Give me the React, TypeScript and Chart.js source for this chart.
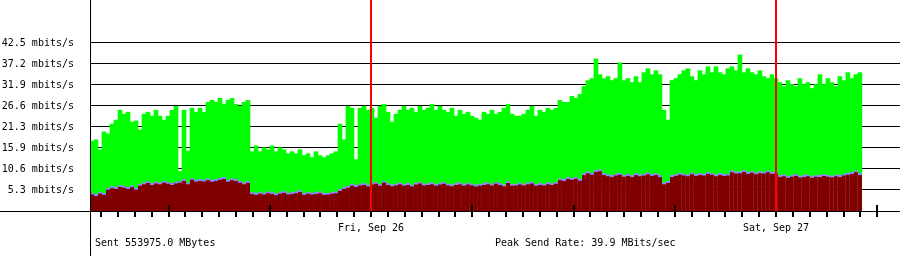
import React, { useEffect, useRef } from "react";
import { Chart, registerables } from "chart.js";

Chart.register(...registerables);

// Total send rate (top of green area), mbits/s, one sample every ~14 minutes
const TOTAL: number[] = [
  17.7, 18.0, 15.5, 20.0, 19.5, 22.0, 23.0, 25.5, 24.5, 25.0,
  22.5, 22.8, 20.5, 24.5, 25.0, 24.0, 25.5, 24.0, 23.0, 24.0,
  25.5, 26.5, 10.0, 25.5, 15.2, 26.0, 25.0, 26.0, 25.0, 27.5,
  28.0, 27.5, 28.5, 27.0, 28.0, 28.5, 27.0, 26.5, 27.5, 28.0,
  15.0, 16.5, 15.0, 16.0, 15.5, 16.5, 15.0, 16.0, 15.5, 14.5,
  15.0, 14.5, 15.5, 14.0, 14.5, 13.5, 15.0, 14.0, 13.5, 14.0,
  14.5, 15.0, 22.0, 18.0, 26.5, 26.0, 13.0, 26.0, 26.5, 25.5,
  26.0, 23.5, 26.5, 27.0, 25.0, 22.5, 24.5, 25.5, 26.5, 25.5,
  26.0, 25.0, 26.5, 25.5, 26.0, 27.0, 25.5, 26.5, 25.5, 25.0,
  26.0, 24.0, 25.5, 24.5, 25.0, 24.0, 23.5, 23.0, 25.0, 24.5,
  25.5, 24.5, 25.0, 26.0, 27.0, 24.5, 24.0, 24.0, 24.5, 25.5,
  26.5, 24.0, 25.5, 25.0, 26.0, 25.5, 26.0, 28.0, 27.5, 27.5,
  29.0, 28.5, 29.5, 31.5, 33.0, 33.5, 38.5, 34.5, 33.5, 34.0,
  33.0, 33.5, 37.5, 33.0, 33.5, 32.5, 34.0, 32.5, 35.0, 36.0,
  34.5, 35.5, 34.5, 25.5, 23.0, 33.0, 33.5, 34.5, 35.5, 36.0,
  34.0, 33.0, 35.5, 34.5, 36.5, 35.0, 36.5, 35.0, 34.5, 36.0,
  36.5, 35.5, 39.5, 35.0, 36.0, 35.0, 34.5, 35.5, 34.0, 33.5,
  34.5, 33.5, 32.5, 31.5, 33.0, 32.0, 31.5, 33.5, 32.0, 32.5,
  31.0, 32.0, 34.5, 32.0, 33.5, 32.5, 31.5, 34.0, 33.0, 35.0,
  33.5, 34.5, 35.0,
];

// Lower (dark red) series, mbits/s
const RED: number[] = [
  4.6, 4.2, 4.8, 4.5,
  5.8, 6.2, 6.0, 6.5, 6.3, 6.0, 6.4, 5.8,
  6.8, 7.2, 7.5, 7.0, 7.4, 7.2, 7.6, 7.3, 7.0, 7.4,
  7.6, 8.0, 7.2, 8.3, 7.8, 8.0, 7.9, 8.2, 7.8, 8.0,
  8.3, 8.5, 7.8, 8.2, 8.0, 7.6, 7.2, 7.5,
  4.7, 4.5, 4.8, 4.6, 4.9, 4.7, 4.4, 4.8, 5.0, 4.6, 4.7, 4.9, 5.2, 4.5, 4.8, 4.6, 4.7, 4.9, 4.5, 4.6, 4.8, 4.9,
  5.5, 6.0, 6.3, 6.8,
  6.5, 6.9, 7.0, 6.6, 7.1, 7.3, 6.8, 7.6, 7.0, 6.7, 6.9, 7.2, 6.8, 7.0, 6.6, 7.1, 7.4, 6.9, 7.0, 7.2, 6.8, 7.1, 7.3, 6.9, 6.7, 7.0, 7.2, 6.8, 7.1, 6.9,
  6.6, 6.8, 7.0, 7.2, 6.9, 7.3, 7.0, 6.7, 7.5, 6.8, 6.9, 7.1, 6.9, 7.2, 7.4, 6.8, 7.0, 6.9, 7.2, 7.0, 7.3,
  8.2, 8.0, 8.5, 8.3, 8.6, 8.1,
  9.5, 10.0, 9.6, 10.3, 10.5,
  9.5, 9.2, 9.0, 9.4, 9.6, 9.1, 9.3, 9.0, 9.5, 9.2, 9.4, 9.7, 9.3, 9.5, 9.0,
  7.2, 7.5,
  9.0, 9.3, 9.6, 9.4, 9.2, 9.7, 9.3, 9.5, 9.4, 9.8, 9.6, 9.2, 9.5, 9.3, 9.4,
  10.2, 9.9, 10.0, 10.3, 9.8, 10.1, 9.7, 10.0, 9.9, 10.2, 9.8, 9.9,
  9.0, 9.2, 8.8, 9.1, 9.3, 8.9, 9.0, 9.2, 8.8, 9.1, 9.0, 9.3, 9.1, 8.9, 9.2, 9.0, 9.4, 9.6, 9.8, 10.2, 9.5,
];

// Sample times, hours since Thu Sep 25 00:00
const START_HOUR = 7.467;
const STEP_HOUR = 0.237;
const X_MIN = 7.348;
const X_MAX = 55.348;

const TICK_HOURS: number[] = [
  8, 9, 10, 11, 12, 13, 14, 15, 16, 17, 18, 19, 20, 21, 22, 23, 24, 25, 26, 27, 28, 29, 30,
  31, 32, 33, 34, 35, 36, 37, 38, 39, 40, 41, 42, 43, 44, 45, 46, 47, 48, 49, 50, 51, 52, 53, 54,
];
const MAJOR_HOURS: number[] = [12, 18, 24, 30, 36, 42, 48, 54];
const DAY_HOURS: number[] = [24, 48];
const DAY_LABELS: string[] = ["Fri, Sep 26", "Sat, Sep 27"];

const Y_MAX = 53.375;
const Y_TICK_VALUES: number[] = [5.3125, 10.625, 15.9375, 21.25, 26.5625, 31.875, 37.1875, 42.5];
const Y_TICK_LABELS: string[] = [
  "5.3 mbits/s", "10.6 mbits/s", "15.9 mbits/s", "21.3 mbits/s",
  "26.6 mbits/s", "31.9 mbits/s", "37.2 mbits/s", "42.5 mbits/s",
];

const SENT_TEXT = "Sent 553975.0 MBytes";
const PEAK_TEXT = "Peak Send Rate: 39.9 MBits/sec";

const FONT = "'DejaVu Sans Mono', monospace";

export default function App() {
  const ref = useRef<HTMLCanvasElement | null>(null);

  useEffect(() => {
    if (!ref.current) return;
    const times = TOTAL.map((_, i) => START_HOUR + i * STEP_HOUR);
    const redData = RED.map((v, i) => ({ x: times[i], y: v }));
    const greenData = TOTAL.map((v, i) => ({ x: times[i], y: Math.max(0, v - RED[i]) }));

    const overlay = {
      id: "overlay",
      afterDraw(chart: any) {
        const ctx = chart.ctx;
        const area = chart.chartArea;
        const xs = chart.scales.x;
        ctx.save();
        // full-width axis lines
        ctx.strokeStyle = "#000";
        ctx.lineWidth = 1;
        ctx.beginPath();
        ctx.moveTo(0, Math.round(area.bottom) + 0.5);
        ctx.lineTo(chart.width, Math.round(area.bottom) + 0.5);
        ctx.moveTo(Math.round(area.left) + 0.5, 0);
        ctx.lineTo(Math.round(area.left) + 0.5, chart.height);
        ctx.stroke();
        // major ticks above the axis
        ctx.lineWidth = 2;
        ctx.beginPath();
        MAJOR_HOURS.forEach((h) => {
          const px = Math.round(xs.getPixelForValue(h));
          ctx.moveTo(px, area.bottom - 6);
          ctx.lineTo(px, area.bottom);
        });
        ctx.stroke();
        // day boundary lines
        ctx.strokeStyle = "#ff0000";
        ctx.lineWidth = 2;
        ctx.beginPath();
        DAY_HOURS.forEach((h) => {
          const px = Math.round(xs.getPixelForValue(h));
          ctx.moveTo(px, 0);
          ctx.lineTo(px, area.bottom);
        });
        ctx.stroke();
        // footer texts
        ctx.fillStyle = "#000";
        ctx.font = "10px " + FONT;
        ctx.textBaseline = "alphabetic";
        ctx.textAlign = "left";
        ctx.fillText(SENT_TEXT, 95, 246);
        ctx.fillText(PEAK_TEXT, 495, 246);
        ctx.restore();
      },
    };

    const chart = new Chart(ref.current, {
      type: "bar",
      data: {
        datasets: [
          {
            label: "red",
            data: redData,
            backgroundColor: "#800000",
            borderColor: "#8c84f4",
            borderWidth: { top: 2, left: 0, right: 0, bottom: 0 },
            borderSkipped: "bottom",
            barPercentage: 1,
            categoryPercentage: 1,
          } as any,
          {
            label: "green",
            data: greenData,
            backgroundColor: "#00ff00",
            borderWidth: 0,
            barPercentage: 1,
            categoryPercentage: 1,
          } as any,
        ],
      },
      options: {
        animation: false,
        responsive: false,
        devicePixelRatio: 1,
        layout: { padding: 0 },
        plugins: { legend: { display: false }, tooltip: { enabled: false }, title: { display: false } },
        scales: {
          x: {
            type: "linear",
            min: X_MIN,
            max: X_MAX,
            offset: false,
            stacked: true,
            z: 1,
            afterBuildTicks: (s: any) => {
              s.ticks = TICK_HOURS.map((v) => ({ value: v }));
            },
            afterFit: (s: any) => {
              s.height = 45;
              s.paddingLeft = 0;
              s.paddingRight = 0;
            },
            border: { display: false },
            grid: { offset: false, drawOnChartArea: false, drawTicks: true, tickLength: 6, color: "#000", lineWidth: 2 },
            ticks: {
              autoSkip: false,
              maxRotation: 0,
              minRotation: 0,
              padding: 5,
              color: "#000",
              font: { family: FONT, size: 10 },
              callback: (v: any) => {
                const idx = DAY_HOURS.indexOf(Number(v));
                return idx >= 0 ? DAY_LABELS[idx] : "";
              },
            },
          },
          y: {
            min: 0,
            max: Y_MAX,
            stacked: true,
            z: 1,
            afterBuildTicks: (s: any) => {
              s.ticks = Y_TICK_VALUES.map((v) => ({ value: v }));
            },
            afterFit: (s: any) => {
              s.width = 90;
              s.paddingTop = 0;
              s.paddingBottom = 0;
            },
            border: { display: false },
            grid: { drawTicks: false, color: "#000", lineWidth: 1 },
            ticks: {
              padding: 16,
              color: "#000",
              font: { family: FONT, size: 10 },
              callback: (v: any) => {
                const idx = Y_TICK_VALUES.findIndex((t) => Math.abs(t - Number(v)) < 1e-6);
                return idx >= 0 ? Y_TICK_LABELS[idx] : "";
              },
            },
          },
        },
      },
      plugins: [overlay],
    } as any);

    return () => chart.destroy();
  }, []);

  return (
    <div style={{ position: "absolute", left: 0, top: 0, width: 900, height: 256, background: "#fff" }}>
      <canvas ref={ref} width={900} height={256} style={{ display: "block", width: 900, height: 256 }} />
    </div>
  );
}
